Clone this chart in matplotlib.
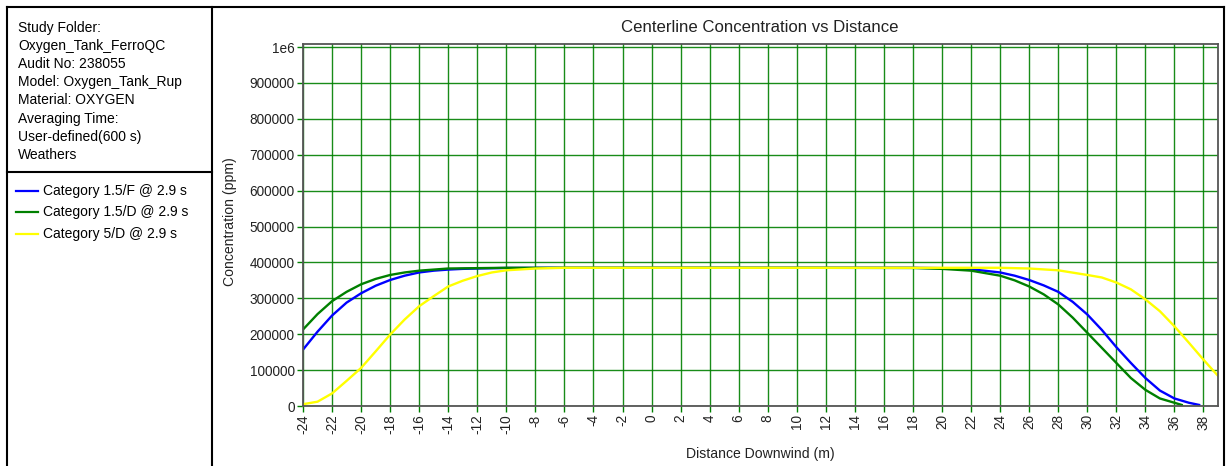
import matplotlib
matplotlib.use("Agg")
import matplotlib.pyplot as plt
from matplotlib.lines import Line2D

plt.rcParams['font.family'] = ['Liberation Sans', 'DejaVu Sans']

# 数据
blue_x = [-24, -23, -22, -21, -20, -19, -18, -17, -16, -15, -14, -13, -12, -10, -6, 0, 10, 18,
          20, 22, 24, 25, 26, 27, 28, 29, 30, 31, 32, 33, 34, 35, 36, 37, 37.7]
blue_y = [157000, 207000, 252000, 288000, 314000, 335000, 351000, 363000, 372000, 377000,
          380000, 382000, 383000, 384500, 385000, 385000, 385000, 385000,
          384000, 381000, 372000, 363000, 351000, 336000, 318000, 290000, 255000, 212000,
          164000, 120000, 78000, 43000, 21000, 9000, 3000]

green_x = [-24, -23, -22, -21, -20, -19, -18, -17, -16, -15, -14, -12, -10, 0, 10, 18,
           20, 22, 24, 25, 26, 27, 28, 29, 30, 31, 32, 33, 34, 35, 36, 36.5]
green_y = [213000, 256000, 292000, 318000, 339000, 354000, 365000, 372000, 377000, 380000,
           383000, 384000, 385000, 385000, 385000, 384500,
           382000, 377000, 363000, 350000, 333000, 311000, 283000, 246000, 204000, 162000,
           120000, 78000, 45000, 21000, 9000, 3000]

yellow_x = [-24, -23, -22, -21, -20, -19, -18, -17, -16, -15, -14, -13, -12, -11, -10, -8, -6,
            0, 10, 20, 24, 26, 28, 30, 31, 32, 33, 34, 35, 36, 37, 38, 39]
yellow_y = [5000, 12000, 35000, 70000, 106000, 152000, 199000, 241000, 278000, 306000, 333000,
            349000, 362000, 372000, 378000, 383000, 385000,
            385000, 385000, 385000, 385000, 383000, 378000, 365000, 358000, 344000, 325000,
            297000, 264000, 222000, 176000, 129000, 84000]

series_labels = ['Category 1.5/F @ 2.9 s', 'Category 1.5/D @ 2.9 s', 'Category 5/D @ 2.9 s']
series_colors = ['#0000FF', '#008000', '#FFFF00']

info_lines = ['Study Folder:', 'Oxygen_Tank_FerroQC', 'Audit No: 238055',
              'Model: Oxygen_Tank_Rup', 'Material: OXYGEN', 'Averaging Time:',
              'User-defined(600 s)', 'Weathers']

x_ticks = list(range(-24, 39, 2))
y_ticks = [0, 100000, 200000, 300000, 400000, 500000, 600000, 700000, 800000, 900000, 1000000]
y_tick_labels = ['0', '100000', '200000', '300000', '400000', '500000', '600000',
                 '700000', '800000', '900000', '1e6']

W, H = 1226, 466
fig = plt.figure(figsize=(W / 100, H / 100), dpi=100)


def fx(px):
    return px / W


def fy(py):
    return 1 - py / H


# 外框
frame_kw = dict(color='black', lw=1.5, transform=fig.transFigure)
fig.add_artist(Line2D([fx(7), fx(1224)], [fy(7), fy(7)], **frame_kw))
fig.add_artist(Line2D([fx(7), fx(7)], [fy(7), fy(466)], **frame_kw))
fig.add_artist(Line2D([fx(212), fx(212)], [fy(7), fy(466)], **frame_kw))
fig.add_artist(Line2D([fx(1224), fx(1224)], [fy(7), fy(466)], **frame_kw))
fig.add_artist(Line2D([fx(7), fx(212)], [fy(172), fy(172)], **frame_kw))

# 左侧信息
for i, s in enumerate(info_lines):
    fig.text(fx(18), fy(28 + 18.1 * i), s, fontsize=10, va='center', ha='left')

# 图例
for i, (lab, col) in enumerate(zip(series_labels, series_colors)):
    yy = fy(191 + 21.5 * i)
    fig.add_artist(Line2D([fx(16), fx(38)], [yy, yy], color=col, lw=1.6,
                          transform=fig.transFigure))
    fig.text(fx(43), yy, lab, fontsize=10, va='center', ha='left')

# 主图
ax = fig.add_axes([fx(303), fy(406), fx(1218 - 303), (406 - 44) / H])
ax.plot(blue_x, blue_y, color=series_colors[0], lw=1.7)
ax.plot(green_x, green_y, color=series_colors[1], lw=1.7)
ax.plot(yellow_x, yellow_y, color=series_colors[2], lw=1.7)

ax.set_xlim(-24, 39)
ax.set_ylim(0, 1008400)
ax.set_xticks(x_ticks)
ax.set_xticklabels([str(t) for t in x_ticks], rotation=90, fontsize=9.8)
ax.set_yticks(y_ticks)
ax.set_yticklabels(y_tick_labels, fontsize=9.8)
ax.grid(True, color='#008000', lw=1, alpha=0.9)
ax.set_axisbelow(True)
ax.tick_params(length=4, width=1, color='#008000', pad=2, labelcolor='#222222')
for sp in ax.spines.values():
    sp.set_color('#555555')
    sp.set_linewidth(1.3)

fig.text(fx(760), fy(27), 'Centerline Concentration vs Distance', fontsize=12.1,
         ha='center', va='center', color='#222222')
fig.text(fx(760), fy(454), 'Distance Downwind (m)', fontsize=10.1, ha='center', va='center',
         color='#222222')
fig.text(fx(230), fy(222), 'Concentration (ppm)', fontsize=10.1, ha='center', va='center',
         rotation=90, color='#222222')

fig.savefig('out.png', dpi=100)
